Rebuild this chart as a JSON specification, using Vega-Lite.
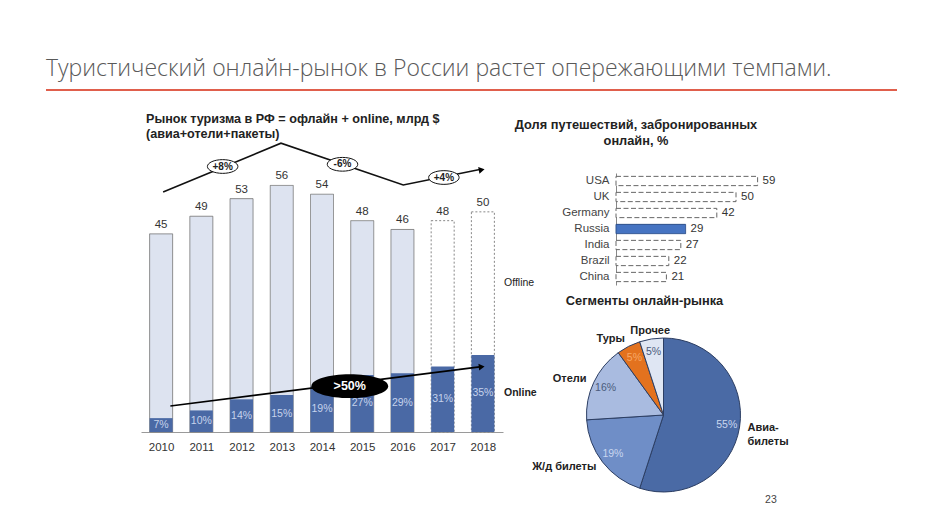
{
  "$schema": "https://vega.github.io/schema/vega-lite/v6.json",
  "background": "white",
  "padding": {"left": 45, "top": 50, "right": 0, "bottom": 0},
  "config": {"view": {"stroke": null}, "font": "Liberation Sans"},
  "bounds": "flush",
  "spacing": 47,
  "vconcat": [
    {
      "width": 851,
      "height": 40,
      "layer": [
        {
          "data": {"values": [{"x": 0, "y": 0.35, "t": "Туристический онлайн-рынок в России растет опережающими темпами."}]},
          "mark": {"type": "text", "align": "left", "baseline": "alphabetic", "font": "Open Sans", "fontWeight": 300, "fontSize": 23, "color": "#595959"},
          "encoding": {
            "x": {"field": "x", "type": "quantitative", "scale": {"domain": [0, 1], "nice": false}, "axis": null},
            "y": {"field": "y", "type": "quantitative", "scale": {"domain": [0, 1], "nice": false}, "axis": null},
            "text": {"field": "t"}
          }
        },
        {
          "data": {"values": [{"x": 0, "x2": 1, "y": 0}]},
          "mark": {"type": "rule", "color": "#e05f4c", "strokeWidth": 2},
          "encoding": {
            "x": {"field": "x", "type": "quantitative", "scale": {"domain": [0, 1], "nice": false}, "axis": null},
            "x2": {"field": "x2"},
            "y": {"field": "y", "type": "quantitative", "scale": {"domain": [0, 1], "nice": false}, "axis": null}
          }
        }
      ]
    },
    {
      "bounds": "flush",
      "spacing": 10,
      "hconcat": [
        {"width": 85, "height": 1, "data": {"values": [{"t": ""}]}, "mark": "text", "encoding": {"text": {"field": "t"}}},
        {
          "width": 362,
          "height": 295,
          "title": {"text": ["Рынок туризма в РФ = офлайн + online, млрд $", "(авиа+отели+пакеты)"], "anchor": "start", "dx": 5, "offset": -4, "fontSize": 12.6, "fontWeight": "bold", "font": "Liberation Sans", "color": "#222", "lineHeight": 15},
          "resolve": {"scale": {"y": "independent"}},
          "encoding": {
            "x": {"field": "year", "type": "quantitative", "scale": {"domain": [2009.5, 2018.5], "nice": false, "zero": false, "padding": 0},
              "axis": {"values": [2010, 2011, 2012, 2013, 2014, 2015, 2016, 2017, 2018], "format": "d", "ticks": false, "grid": false, "title": null, "labelPadding": 9, "labelFontSize": 11.5, "labelColor": "#333", "domainColor": "#9a9a9a", "labelFont": "Liberation Sans"}}
          },
          "layer": [
            {
              "data": {"values": [
                {"year": 2010, "total": 45, "online": 3.15, "lab": "7%"},
                {"year": 2011, "total": 49, "online": 4.9, "lab": "10%"},
                {"year": 2012, "total": 53, "online": 7.42, "lab": "14%"},
                {"year": 2013, "total": 56, "online": 8.4, "lab": "15%"},
                {"year": 2014, "total": 54, "online": 10.26, "lab": "19%"},
                {"year": 2015, "total": 48, "online": 12.96, "lab": "27%"},
                {"year": 2016, "total": 46, "online": 13.34, "lab": "29%"},
                {"year": 2017, "total": 48, "online": 14.88, "lab": "31%"},
                {"year": 2018, "total": 50, "online": 17.5, "lab": "35%"}
              ]},
              "resolve": {"scale": {"y": "independent"}},
              "layer": [
                {
                  "mark": {"type": "bar", "size": 23, "stroke": "#7a7a7a", "strokeWidth": 0.9},
                  "encoding": {
                    "y": {"field": "total", "type": "quantitative", "scale": {"domain": [0, 67], "nice": false}, "axis": null},
                    "fill": {"condition": {"test": "datum.year >= 2017", "value": "#ffffff"}, "value": "#dde3f0"},
                    "strokeDash": {"condition": {"test": "datum.year >= 2017", "value": [2, 2]}, "value": [1, 0]}
                  }
                },
                {
                  "mark": {"type": "bar", "size": 23, "color": "#4a69a5"},
                  "encoding": {
                    "y": {"field": "online", "type": "quantitative", "scale": {"domain": [0, 67], "nice": false}, "axis": null}
                  }
                },
                {
                  "mark": {"type": "text", "baseline": "bottom", "dy": -4, "fontSize": 11.5, "color": "#333"},
                  "encoding": {
                    "y": {"field": "total", "type": "quantitative", "scale": {"domain": [0, 67], "nice": false}, "axis": null},
                    "text": {"field": "total", "type": "quantitative"}
                  }
                },
                {
                  "mark": {"type": "text", "baseline": "middle", "fontSize": 10.5, "color": "#c6d3ec"},
                  "encoding": {
                    "y": {"field": "online", "type": "quantitative", "scale": {"domain": [0, 134], "nice": false}, "axis": null},
                    "text": {"field": "lab"}
                  }
                }
              ]
            },
            {
              "data": {"values": [
                {"year": 2010.05, "v": 54.5},
                {"year": 2012.98, "v": 65.6},
                {"year": 2016.02, "v": 56.1},
                {"year": 2017.92, "v": 59.6}
              ]},
              "mark": {"type": "line", "color": "#111", "strokeWidth": 1.6},
              "encoding": {"y": {"field": "v", "type": "quantitative", "scale": {"domain": [0, 67], "nice": false}, "axis": null}}
            },
            {
              "data": {"values": [
                {"year": 2010.23, "v": 5.9},
                {"year": 2017.92, "v": 14.8}
              ]},
              "mark": {"type": "line", "color": "#000", "strokeWidth": 1.6},
              "encoding": {"y": {"field": "v", "type": "quantitative", "scale": {"domain": [0, 67], "nice": false}, "axis": null}}
            },
            {
              "data": {"values": [
                {"year": 2017.97, "v": 59.55, "a": -11},
                {"year": 2017.97, "v": 14.8, "a": -7}
              ]},
              "mark": {"type": "point", "shape": "triangle-right", "filled": true, "color": "#000", "size": 45, "opacity": 1},
              "encoding": {
                "y": {"field": "v", "type": "quantitative", "scale": {"domain": [0, 67], "nice": false}, "axis": null},
                "angle": {"field": "a", "type": "quantitative", "scale": null}
              }
            },
            {
              "data": {"values": [
                {"year": 2011.53, "v": 60.3, "t": "+8%"},
                {"year": 2014.51, "v": 60.8, "t": "-6%"},
                {"year": 2017.03, "v": 57.8, "t": "+4%"}
              ]},
              "resolve": {"scale": {"y": "independent"}},
              "layer": [
                {
                  "mark": {"type": "point", "shape": "M-1,0A1,0.45,0,1,1,1,0A1,0.45,0,1,1,-1,0Z", "filled": true, "fill": "#ffffff", "stroke": "#111", "strokeWidth": 1, "size": 930, "opacity": 1},
                  "encoding": {"y": {"field": "v", "type": "quantitative", "scale": {"domain": [0, 67], "nice": false}, "axis": null}}
                },
                {
                  "mark": {"type": "text", "baseline": "middle", "fontSize": 10, "fontWeight": "bold", "color": "#222"},
                  "encoding": {
                    "y": {"field": "v", "type": "quantitative", "scale": {"domain": [0, 67], "nice": false}, "axis": null},
                    "text": {"field": "t"}
                  }
                }
              ]
            },
            {
              "data": {"values": [{"year": 2014.69, "v": 10.4, "t": ">50%"}]},
              "resolve": {"scale": {"y": "independent"}},
              "layer": [
                {
                  "mark": {"type": "point", "shape": "M-1,0A1,0.31,0,1,1,1,0A1,0.31,0,1,1,-1,0Z", "filled": true, "fill": "#000", "size": 5900, "opacity": 1},
                  "encoding": {"y": {"field": "v", "type": "quantitative", "scale": {"domain": [0, 67], "nice": false}, "axis": null}}
                },
                {
                  "mark": {"type": "text", "baseline": "middle", "fontSize": 12.5, "fontWeight": "bold", "color": "#ffffff"},
                  "encoding": {
                    "y": {"field": "v", "type": "quantitative", "scale": {"domain": [0, 67], "nice": false}, "axis": null},
                    "text": {"field": "t"}
                  }
                }
              ]
            },
            {
              "data": {"values": [
                {"year": 2018.5, "v": 33.8, "t": "Offline", "w": "normal"},
                {"year": 2018.5, "v": 8.9, "t": "Online", "w": "bold"}
              ]},
              "mark": {"type": "text", "align": "left", "baseline": "middle", "dx": 1, "fontSize": 10.5, "color": "#222", "fontWeight": {"expr": "datum.w"}},
              "encoding": {
                "y": {"field": "v", "type": "quantitative", "scale": {"domain": [0, 67], "nice": false}, "axis": null},
                "text": {"field": "t"}
              }
            },
            {
              "data": {"values": [{"year": 2025.16, "v": -15.4, "t": "23"}]},
              "mark": {"type": "text", "baseline": "middle", "fontSize": 10.5, "color": "#444"},
              "encoding": {
                "y": {"field": "v", "type": "quantitative", "scale": {"domain": [0, 67], "nice": false}, "axis": null},
                "text": {"field": "t"}
              }
            }
          ]
        },
        {"width": 93, "height": 1, "data": {"values": [{"t": ""}]}, "mark": "text", "encoding": {"text": {"field": "t"}}},
        {
          "bounds": "flush",
          "spacing": 10,
          "vconcat": [
            {"width": 1, "height": 26, "data": {"values": [{"t": ""}]}, "mark": "text", "encoding": {"text": {"field": "t"}}},
            {
              "width": 144,
              "height": 112,
              "title": {"text": ["Доля путешествий, забронированных", "онлайн, %"], "anchor": "middle", "frame": "group", "dx": -52, "offset": 25, "fontSize": 12.8, "fontWeight": "bold", "font": "Liberation Sans", "color": "#222", "lineHeight": 16.5},
              "data": {"values": [
                {"c": "USA", "v": 59},
                {"c": "UK", "v": 50},
                {"c": "Germany", "v": 42},
                {"c": "Russia", "v": 29},
                {"c": "India", "v": 27},
                {"c": "Brazil", "v": 22},
                {"c": "China", "v": 21}
              ]},
              "encoding": {
                "y": {"field": "c", "type": "nominal", "sort": ["USA", "UK", "Germany", "Russia", "India", "Brazil", "China"],
                  "scale": {"paddingInner": 0.42, "paddingOuter": 0.21},
                  "axis": {"title": null, "ticks": false, "labelPadding": 7, "labelFontSize": 11.5, "labelColor": "#444", "domainColor": "#888", "labelFont": "Liberation Sans"}},
                "x": {"field": "v", "type": "quantitative", "scale": {"domain": [0, 60], "nice": false}, "axis": null}
              },
              "layer": [
                {
                  "mark": {"type": "bar", "strokeWidth": 1},
                  "encoding": {
                    "fill": {"condition": {"test": "datum.c === 'Russia'", "value": "#4674c2"}, "value": "#ffffff"},
                    "stroke": {"condition": {"test": "datum.c === 'Russia'", "value": "#2d4f8a"}, "value": "#666666"},
                    "strokeDash": {"condition": {"test": "datum.c === 'Russia'", "value": [1, 0]}, "value": [5, 2.5]}
                  }
                },
                {
                  "mark": {"type": "text", "align": "left", "baseline": "middle", "dx": 5, "fontSize": 11.5, "color": "#333"},
                  "encoding": {"text": {"field": "v", "type": "quantitative"}}
                }
              ]
            },
            {
              "width": 95,
              "height": 240,
              "title": {"text": "Сегменты онлайн-рынка", "anchor": "middle", "frame": "group", "dx": -19, "offset": -13, "fontSize": 12.8, "fontWeight": "bold", "font": "Liberation Sans", "color": "#222"},
              "data": {"values": [
                {"s": "Авиа-билеты", "v": 55, "i": 1, "p": "55%", "lab": "Авиа-\nбилеты"},
                {"s": "Ж/д билеты", "v": 19, "i": 2, "p": "19%", "lab": "Ж/д билеты"},
                {"s": "Отели", "v": 16, "i": 3, "p": "16%", "lab": "Отели"},
                {"s": "Туры", "v": 5, "i": 4, "p": "5%", "lab": "Туры"},
                {"s": "Прочее", "v": 5, "i": 5, "p": "5%", "lab": "Прочее"}
              ]},
              "encoding": {
                "theta": {"field": "v", "type": "quantitative", "stack": true},
                "order": {"field": "i", "type": "quantitative"}
              },
              "layer": [
                {
                  "mark": {"type": "arc", "radius": 77, "stroke": "#2c3e63", "strokeWidth": 1},
                  "encoding": {
                    "color": {"field": "s", "type": "nominal",
                      "scale": {"domain": ["Авиа-билеты", "Ж/д билеты", "Отели", "Туры", "Прочее"], "range": ["#4a6aa5", "#6f8ec7", "#a9bbe0", "#e3721e", "#dfe6f3"]},
                      "legend": null}
                  }
                },
                {
                  "mark": {"type": "text", "radius": 64, "baseline": "middle", "fontSize": 10.5},
                  "encoding": {
                    "text": {"field": "p"},
                    "color": {"condition": [{"test": "datum.i <= 2", "value": "#c9d6ef"}, {"test": "datum.i === 4", "value": "#f7a866"}], "value": "#4b5b7c"}
                  }
                },
                {
                  "mark": {"type": "text", "radius": 85, "align": "left", "baseline": "middle", "fontSize": 11, "fontWeight": "bold", "color": "#222", "lineBreak": "\n", "lineHeight": 14},
                  "encoding": {"text": {"condition": {"test": "datum.i === 1", "field": "lab"}, "value": ""}}
                },
                {
                  "mark": {"type": "text", "radius": 85, "align": "right", "baseline": "middle", "fontSize": 11, "fontWeight": "bold", "color": "#222"},
                  "encoding": {"text": {"condition": {"test": "datum.i >= 2 && datum.i <= 4", "field": "lab"}, "value": ""}}
                },
                {
                  "mark": {"type": "text", "radius": 85, "align": "center", "baseline": "middle", "fontSize": 11, "fontWeight": "bold", "color": "#222"},
                  "encoding": {"text": {"condition": {"test": "datum.i === 5", "field": "lab"}, "value": ""}}
                }
              ]
            }
          ]
        }
      ]
    }
  ]
}
